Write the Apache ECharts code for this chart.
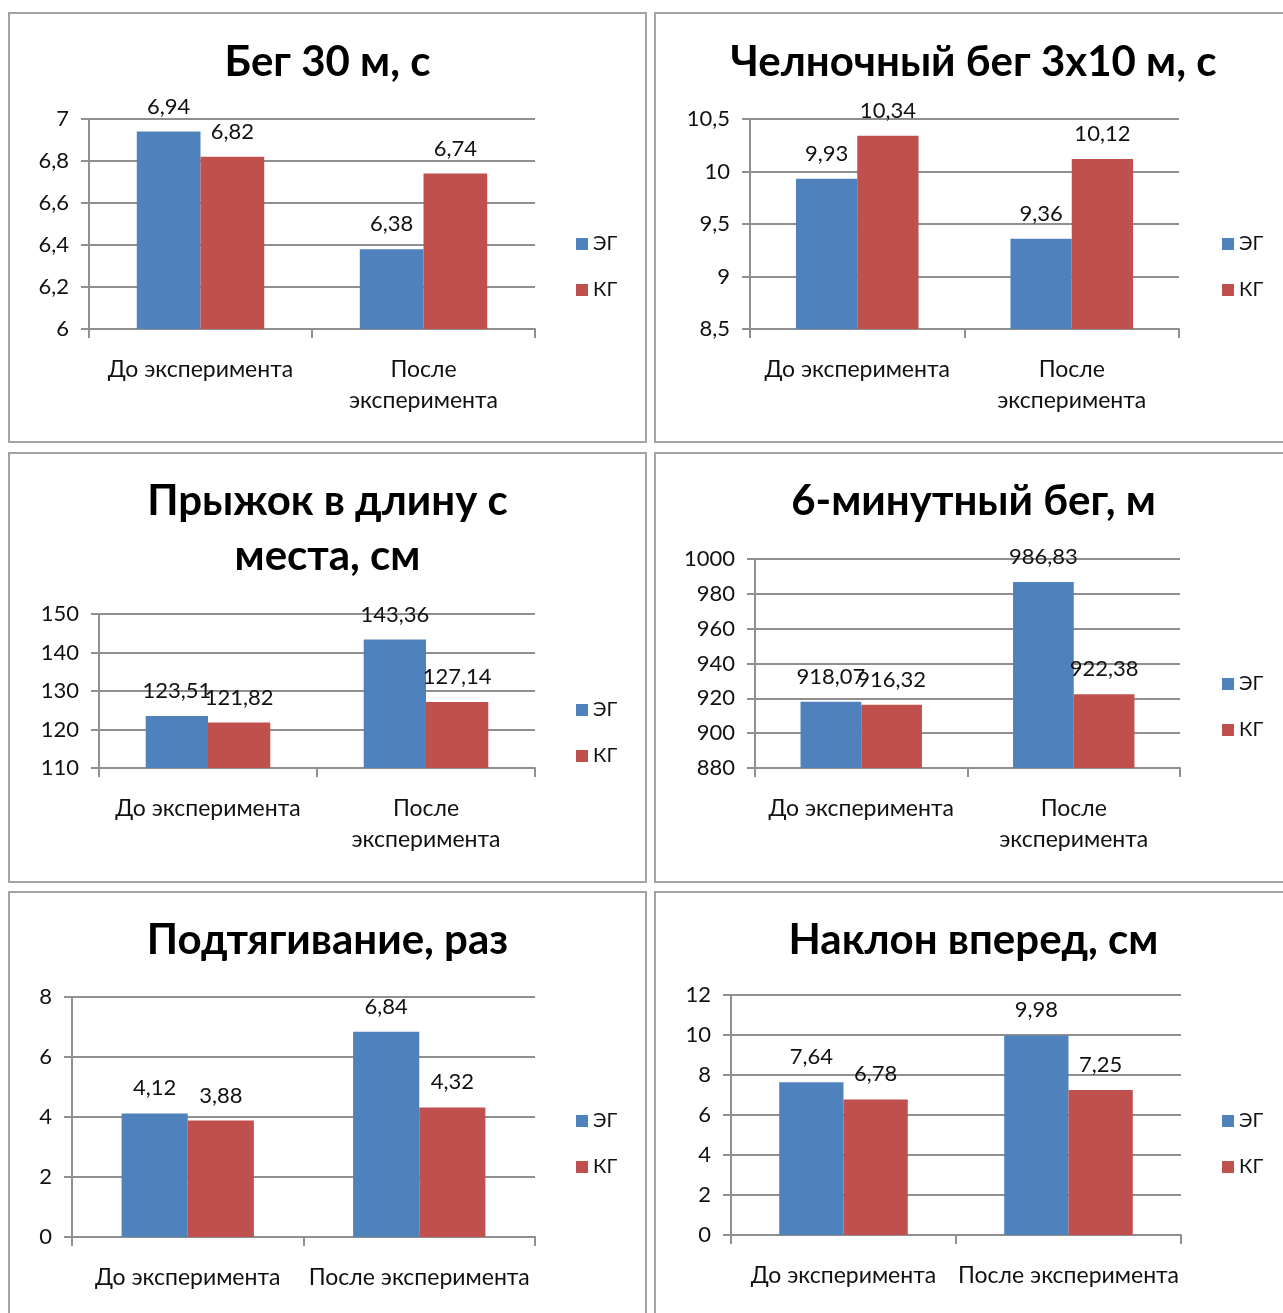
<!DOCTYPE html>
<html>
<head>
<meta charset="utf-8">
<script src="https://cdn.jsdelivr.net/npm/echarts@6/dist/echarts.min.js"></script>
<style>
  html, body { margin: 0; padding: 0; background: #fff; width: 1283px; height: 1313px; overflow: hidden; }
  .panel { position: absolute; width: 639px; height: 431px; box-sizing: border-box; border: 2px solid #a3a3a3; background: #fff; }
  .chart { width: 635px; height: 427px; }
</style>
</head>
<body>
<div class="panel" style="left:8px;top:12px"><div class="chart" id="c1"></div></div>
<div class="panel" style="left:654px;top:12px"><div class="chart" id="c2"></div></div>
<div class="panel" style="left:8px;top:452px"><div class="chart" id="c3"></div></div>
<div class="panel" style="left:654px;top:452px"><div class="chart" id="c4"></div></div>
<div class="panel" style="left:8px;top:891px"><div class="chart" id="c5"></div></div>
<div class="panel" style="left:654px;top:891px"><div class="chart" id="c6"></div></div>
<script>
// Group names and test stages
const groups = ['ЭГ', 'КГ'];
const stagesWrapped = ['До эксперимента', 'После\nэксперимента'];
const stagesFlat = ['До эксперимента', 'После эксперимента'];

// Бег 30 м, с
const run30Eg = [6.94, 6.38];
const run30Kg = [6.82, 6.74];
// Челночный бег 3х10 м, с
const shuttleEg = [9.93, 9.36];
const shuttleKg = [10.34, 10.12];
// Прыжок в длину с места, см
const jumpEg = [123.51, 143.36];
const jumpKg = [121.82, 127.14];
// 6-минутный бег, м
const run6Eg = [918.07, 986.83];
const run6Kg = [916.32, 922.38];
// Подтягивание, раз
const pullEg = [4.12, 6.84];
const pullKg = [3.88, 4.32];
// Наклон вперед, см
const bendEg = [7.64, 9.98];
const bendKg = [6.78, 7.25];

const FONT = 'Lato, "Noto Sans", sans-serif';
const BLUE = '#4f81bd';
const RED = '#c0504d';
const GRID_COLOR = '#8f8f8f';

const comma = v => String(+(+v).toFixed(2)).replace('.', ',');

function build(cfg) {
  const chart = echarts.init(document.getElementById(cfg.id), null, { renderer: 'canvas' });
  const titleLH = 55;
  const barSeries = (name, data, color) => ({
    name: name,
    type: 'bar',
    data: data,
    barGap: '0%',
    barCategoryGap: '42.86%',
    itemStyle: { color: color },
    label: {
      show: true,
      position: 'top',
      distance: 14,
      formatter: p => comma(p.value),
      fontFamily: FONT,
      fontSize: 22,
      color: '#111'
    }
  });
  chart.setOption({
    animation: false,
    title: {
      text: cfg.title,
      left: 'center',
      // first title line is centred on titleCenter
      top: cfg.titleCenter - titleLH / 2,
      padding: 0,
      textStyle: { fontFamily: FONT, fontWeight: 'bold', fontSize: 42, lineHeight: titleLH, color: '#000' }
    },
    legend: {
      orient: 'vertical',
      left: 566,
      top: cfg.legendTop,
      padding: 0,
      itemWidth: 12,
      itemHeight: 12,
      itemGap: 26,
      icon: 'rect',
      data: groups,
      textStyle: { fontFamily: FONT, fontSize: 20, lineHeight: 20, color: '#111' }
    },
    grid: { left: cfg.grid[0], top: cfg.grid[1], width: cfg.grid[2], height: cfg.grid[3] },
    xAxis: {
      type: 'category',
      data: cfg.cats,
      axisLine: { lineStyle: { color: GRID_COLOR, width: 2 } },
      axisTick: { show: true, length: 9, lineStyle: { color: GRID_COLOR, width: 2 } },
      axisLabel: { margin: 25, fontFamily: FONT, fontSize: 23, lineHeight: 31, color: '#111', interval: 0 }
    },
    yAxis: {
      type: 'value',
      min: cfg.min,
      max: cfg.max,
      interval: cfg.step,
      axisLine: { show: true, lineStyle: { color: GRID_COLOR, width: 2 } },
      axisTick: { show: true, length: 8, lineStyle: { color: GRID_COLOR, width: 2 } },
      splitLine: { lineStyle: { color: GRID_COLOR, width: 2 } },
      axisLabel: { margin: 20, fontFamily: FONT, fontSize: 22, color: '#111', formatter: comma }
    },
    series: [barSeries(groups[0], cfg.eg, BLUE), barSeries(groups[1], cfg.kg, RED)]
  });
}

build({ id: 'c1', title: 'Бег 30 м, с', titleCenter: 48, cats: stagesWrapped,
  grid: [79, 105, 446, 210], min: 6, max: 7, step: 0.2, eg: run30Eg, kg: run30Kg, legendTop: 220 });
build({ id: 'c2', title: 'Челночный бег 3х10 м, с', titleCenter: 48, cats: stagesWrapped,
  grid: [94, 105, 429, 210], min: 8.5, max: 10.5, step: 0.5, eg: shuttleEg, kg: shuttleKg, legendTop: 220 });
build({ id: 'c3', title: 'Прыжок в длину с\nместа, см', titleCenter: 47, cats: stagesWrapped,
  grid: [89, 160, 436, 154], min: 110, max: 150, step: 10, eg: jumpEg, kg: jumpKg, legendTop: 246 });
build({ id: 'c4', title: '6-минутный бег, м', titleCenter: 47, cats: stagesWrapped,
  grid: [99, 105, 425, 209], min: 880, max: 1000, step: 20, eg: run6Eg, kg: run6Kg, legendTop: 220 });
build({ id: 'c5', title: 'Подтягивание, раз', titleCenter: 47, cats: stagesFlat,
  grid: [62, 104, 463, 240], min: 0, max: 8, step: 2, eg: pullEg, kg: pullKg, legendTop: 218 });
build({ id: 'c6', title: 'Наклон вперед, см', titleCenter: 47, cats: stagesFlat,
  grid: [75, 102, 450, 240], min: 0, max: 12, step: 2, eg: bendEg, kg: bendKg, legendTop: 218 });
</script>
</body>
</html>
